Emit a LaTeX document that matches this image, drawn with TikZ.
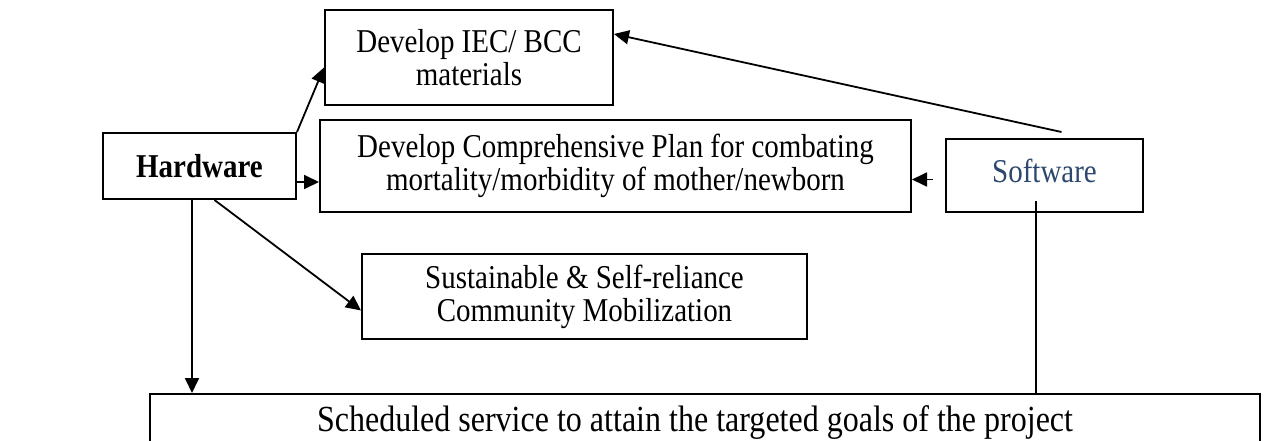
\documentclass[tikz,border=0pt]{standalone}
\usepackage{fontspec}
\setmainfont[FakeStretch=0.87]{Liberation Serif}
\usetikzlibrary{arrows.meta,calc}
\definecolor{swblue}{RGB}{44,72,108}
\begin{document}
\begin{tikzpicture}[x=1pt,y=-1pt,
  box/.style={draw,line width=2pt,rectangle,inner sep=0pt,align=center,font=\fontsize{33.3}{33}\selectfont},
  conn/.style={line width=1.8pt,-{Triangle[length=15pt,width=14pt]}},
  link/.style={line width=1.8pt}]
\useasboundingbox (0,0) rectangle (1267,441);
\clip (0,0) rectangle (1267,441);
\node[box,minimum width=288pt,minimum height=95pt] (iec) at (469,57.5) {Develop IEC/ BCC\\materials};
\node[box,minimum width=591pt,minimum height=92pt] (plan) at (615.5,166) {Develop Comprehensive Plan for combating\\mortality/morbidity of mother/newborn};
\node[box,minimum width=193pt,minimum height=66pt,font=\fontsize{33.3}{33}\selectfont\bfseries] (hw) at (199.5,166) {Hardware};
\node[box,minimum width=197pt,minimum height=73pt,text=swblue,text height=28pt,text depth=14pt] (sw) at (1044.5,175.5) {Software};
\node[box,minimum width=445pt,minimum height=85pt] (sus) at (584.5,296.5) {Sustainable \& Self-reliance\\Community Mobilization};
\node[box,minimum width=1110pt,anchor=north,text height=37pt,text depth=55pt,font=\fontsize{36.8}{38}\selectfont] (bot) at (705,393) {Scheduled service to attain the targeted goals of the project\hspace*{20pt}};
% hardware connectors
\draw[conn] (hw.north east) -- ([yshift=-10pt]iec.west);
\draw[conn] ([yshift=-16pt]hw.east) -- ([yshift=-16pt]plan.west);
\draw[conn] ([xshift=15pt]hw.south) -- ([yshift=-14pt]sus.west);
\coordinate (hwd) at ([xshift=-7.5pt]hw.south);
\draw[conn] (hwd) -- (hwd |- bot.north);
% software connectors
\coordinate (swt) at ([xshift=17pt,yshift=6pt]sw.north);
\draw[conn] (swt) -- ([yshift=23.5pt]iec.east);
\coordinate (swl) at ([xshift=-12pt,yshift=-4pt]sw.west);
\draw[conn] (swl) -- (swl -| plan.east);
\coordinate (swd) at ([xshift=-8.5pt,yshift=12pt]sw.south);
\draw[link] (swd) -- (swd |- bot.north);
\end{tikzpicture}
\end{document}
